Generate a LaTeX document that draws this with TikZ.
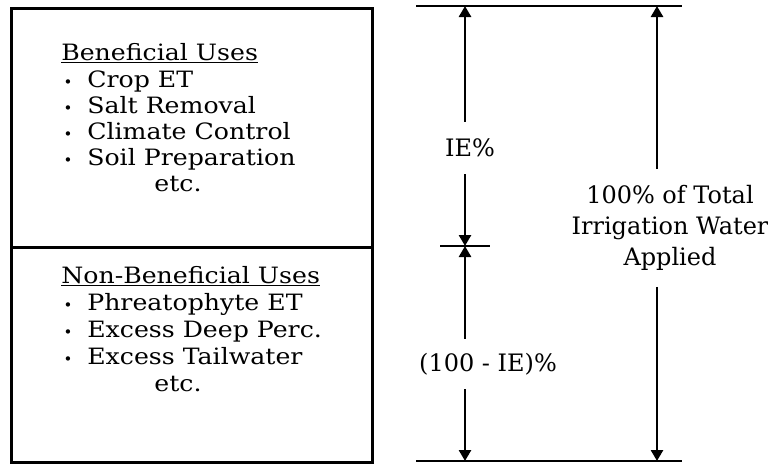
\documentclass[tikz,border=0pt]{standalone}
\usepackage{fontspec}
\setmainfont{DejaVu Serif}
\newfontfamily\widefont{DejaVu Serif}[FakeStretch=1.12]
\usetikzlibrary{arrows.meta}
\begin{document}
\begin{tikzpicture}[x=1pt,y=-1pt, line width=2.6pt,
  box/.style={draw, rectangle, inner sep=0pt, anchor=north west},
  txt/.style={inner sep=0pt, anchor=base west, font=\widefont\fontsize{22.5}{27}\selectfont},
  ctxt/.style={inner sep=0pt, anchor=base, font=\widefont\fontsize{22.5}{27}\selectfont},
  bul/.style={inner sep=0pt, anchor=base, font=\fontsize{15}{15}\selectfont},
  lbl/.style={inner sep=0pt, align=center, font=\fontsize{24}{31}\selectfont},
  arr/.style={-{Triangle[length=11pt,width=12pt]}},
  rule/.style={line width=2.6pt}
 ]
\useasboundingbox (0,0) rectangle (768,463);
% boxes
\node[box, minimum width=361pt, minimum height=239pt] (upper) at (10,7) {};
\node[box, minimum width=361pt, minimum height=215pt] (lower) at (10,246) {};
% upper text
\node[txt] (bh) at (60,60) {\underline{Beneficial Uses}};
\node[bul] (b1) at (68,87) {•};
\node[txt] (t1) at (86,87) {Crop ET};
\node[bul] (b2) at (68,113) {•};
\node[txt] (t2) at (86,113) {Salt Removal};
\node[bul] (b3) at (68,139) {•};
\node[txt] (t3) at (86,139) {Climate Control};
\node[bul] (b4) at (68,165) {•};
\node[txt] (t4) at (86,165) {Soil Preparation};
\node[ctxt] (e1) at (178,191) {etc.};
% lower text
\node[txt] (nh) at (60,283) {\underline{Non-Beneficial Uses}};
\node[bul] (n1) at (68,310) {•};
\node[txt] (u1) at (86,310) {Phreatophyte ET};
\node[bul] (n2) at (68,337) {•};
\node[txt] (u2) at (86,337) {Excess Deep Perc.};
\node[bul] (n3) at (68,364) {•};
\node[txt] (u3) at (86,364) {Excess Tailwater};
\node[ctxt] (e2) at (178,391) {etc.};
% dimension lines
\coordinate (tl) at (416,6);
\coordinate (tr) at (682,6);
\coordinate (bl) at (416,461);
\coordinate (br) at (682,461);
\coordinate (ml) at (440,246);
\coordinate (mr) at (490,246);
\coordinate (a1top) at (465,6);
\coordinate (a1mid) at (465,246);
\coordinate (a1bot) at (465,461);
\coordinate (a2top) at (657,6);
\coordinate (a2bot) at (657,461);
\draw[rule] (tl) -- (tr);
\draw[rule] (bl) -- (br);
\draw[rule] (ml) -- (mr);
% labels
\node[lbl, minimum height=50pt] (ie) at (470,148) {IE\%};
\node[lbl, minimum height=48pt] (nie) at (488,364) {(100 - IE)\%};
\node[lbl, minimum height=115pt] (tot) at (670,228) {100\% of Total\\Irrigation Water\\Applied};
% arrows
\draw[arr] (ie.north -| a1top) -- (a1top);
\draw[arr] (ie.south -| a1mid) -- (a1mid);
\draw[arr] (nie.north -| a1mid) -- (a1mid);
\draw[arr] (nie.south -| a1bot) -- (a1bot);
\draw[arr] (tot.north -| a2top) -- (a2top);
\draw[arr] (tot.south -| a2bot) -- (a2bot);
\end{tikzpicture}
\end{document}
